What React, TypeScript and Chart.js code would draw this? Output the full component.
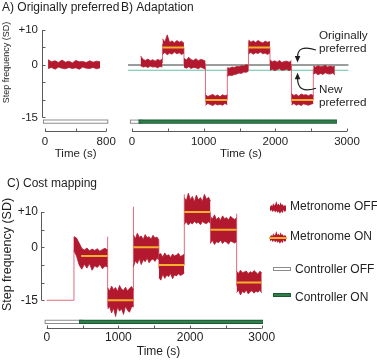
import React, { useEffect, useRef } from 'react';
import { Chart, registerables } from 'chart.js';

Chart.register(...registerables);

const FONT = '"Liberation Sans", Arial, Helvetica, sans-serif';

// colours
const TRACE = '#b3192e';
const TARGET = '#f5b02d';
const STEP = '#e36b7d';
const AXIS = '#5a5a5a';
const INK = '#1f1f1f';
const ORIGINAL = '#3b3b3b';
const NEW_PREF = '#63c2a2';
const CTRL_OFF_FILL = '#ffffff';
const CTRL_OFF_EDGE = '#8c8c8c';
const CTRL_ON_FILL = '#2e7f4c';
const CTRL_ON_EDGE = '#1c5a33';

// ---------- shared step-frequency axis (SD) ----------
const yTicks = [-15, -10, -5, 0, 5, 10];
const yTickLabels = ['-15', '', '', '0', '', '+10'];

// ---------- A) Originally preferred ----------
const aXTicks = [0, 400, 800];
const aXTickLabels = ['0', '', '800'];
const aTrace = [40, 720];
const aUpper = [1.5, 0.9, 1.2, 0.7, 1.4, 0.8, 1.1, 0.6, 1.3, 0.9, 1.0, 0.7, 1.2, 0.8, 1.1, 0.9];
const aLower = [-1.0, -0.7, -1.2, -0.6, -0.9, -1.1, -0.7, -1.0, -0.8, -1.2, -0.6, -0.9, -1.0, -0.7, -1.1, -0.8];
const aCtrlOff = [0, 800];

// ---------- B) Adaptation ----------
const bXTicks = [0, 500, 1000, 1500, 2000, 2500, 3000];
const bXTickLabels = ['0', '', '1000', '', '2000', '', '3000'];
const bSegStart = [120, 425, 725, 1025, 1330, 1625, 1925, 2225, 2530];
const bSegEnd = [425, 725, 1025, 1330, 1625, 1925, 2225, 2530, 2830];
const bTarget: (number | null)[] = [null, 5, null, -10, null, 5, null, -10, null];
const bUpper = [
  [2.6, 1.6, 1.3, 1.7, 1.2, 1.5, 1.1, 1.6, 1.3, 1.8],
  [7.5, 6.6, 8.6, 6.4, 6.9, 6.3, 7.0, 6.5, 6.8, 6.2],
  [1.9, 1.4, 2.2, 1.5, 1.3, 1.8, 1.2, 1.6, 1.4, 1.1],
  [-8.5, -9.0, -8.7, -8.4, -8.9, -8.6, -9.1, -8.5, -8.8, -8.6],
  [-0.8, -0.9, -0.6, -0.7, -0.4, -0.5, -0.2, -0.3, 0.1, -0.1],
  [7.2, 6.5, 6.9, 6.4, 7.0, 6.6, 6.3, 6.8, 6.5, 6.7],
  [1.4, 0.9, 1.2, 0.8, 1.3, 0.7, 1.0, 1.1, 0.8, 1.2],
  [-8.2, -8.7, -8.4, -8.9, -8.3, -8.6, -8.5, -8.8, -8.4, -8.7],
  [-0.3, -0.6, -0.2, -0.5, -0.4, -0.1, -0.6, -0.3, -0.5, -0.4],
];
const bLower = [
  [-0.2, -0.6, -0.4, -0.7, -0.3, -0.6, -0.5, -0.8, -0.4, -0.6],
  [3.0, 3.6, 2.9, 3.4, 3.1, 3.7, 3.2, 3.5, 3.0, 3.4],
  [-0.6, -0.9, -0.5, -1.0, -0.7, -0.8, -1.1, -0.6, -0.9, -1.2],
  [-11.5, -11.0, -11.3, -11.6, -11.1, -11.4, -11.2, -11.5, -11.0, -11.3],
  [-3.2, -2.9, -3.0, -2.7, -2.6, -2.3, -2.4, -2.0, -2.1, -1.8],
  [3.2, 3.6, 3.1, 3.5, 3.3, 3.7, 3.2, 3.4, 3.0, 3.5],
  [-1.5, -1.2, -1.6, -1.3, -1.1, -1.5, -1.4, -1.2, -1.6, -1.3],
  [-11.4, -11.0, -11.5, -11.2, -11.6, -11.1, -11.3, -11.5, -11.2, -11.0],
  [-2.6, -2.3, -2.8, -2.4, -2.7, -2.2, -2.5, -2.6, -2.3, -2.8],
];
const bStepTime = [425, 725, 1025, 1330, 1625, 1925, 2225, 2530];
const bStepLow = [0.5, 0, -10.5, -10, -1.5, 0, -10.5, -10];
const bStepHigh = [6, 5, 0.5, -0.8, 6.8, 5, 0.3, -1];
const bOriginallyPreferred = 0;
const bNewPreferred = -1.5;
const bPreferredSpan = [-56, 3020];
const bCtrlOff = [0, 120];
const bCtrlOn = [120, 2830];

// ---------- C) Cost mapping ----------
const cXTicks = [0, 500, 1000, 1500, 2000, 2500, 3000];
const cXTickLabels = ['0', '', '1000', '', '2000', '', '3000'];
const cPreTimes = [0, 380];
const cPreValues = [-15, -15];
const cSegStart = [380, 850, 1210, 1565, 1920, 2285, 2650];
const cSegEnd = [850, 1210, 1565, 1920, 2285, 2650, 3000];
const cTarget = [-2.5, -15, 0, -5, 10, 5, -10];
const cTargetStart = [480, 850, 1210, 1565, 1920, 2285, 2650];
const cUpper = [
  [3.0, 2.6, 1.2, -0.3, -0.8, -0.2, -1.0, -0.5, -0.9, -0.4, -1.1, -0.6, -0.3, -0.8],
  [-11.5, -12.3, -11.0, -12.0, -11.4, -12.5, -10.8, -11.9, -12.2, -11.3, -12.4, -11.7, -11.1, -12.0],
  [3.5, 2.4, 4.0, 2.8, 3.2, 2.2, 3.6, 2.7, 3.0, 2.3, 3.4, 2.6, 2.9, 2.1],
  [-2.0, -1.8, -2.8, -1.6, -2.4, -2.1, -2.9, -1.9, -2.5, -2.2, -1.7, -2.6, -2.3, -2.0],
  [14.0, 13.2, 15.3, 13.5, 14.4, 12.9, 14.8, 13.4, 14.1, 13.0, 15.0, 13.6, 14.2, 13.1],
  [8.7, 8.0, 9.2, 7.8, 8.5, 7.6, 8.9, 8.1, 8.4, 7.7, 8.8, 8.2, 7.9, 8.3],
  [-6.8, -7.4, -6.5, -7.2, -7.0, -6.7, -7.5, -6.9, -7.3, -6.6, -7.1, -7.6, -6.8, -7.2],
];
const cLower = [
  [-1.0, -2.5, -5.0, -6.2, -4.8, -5.9, -4.6, -6.5, -5.2, -5.7, -4.9, -6.1, -5.3, -5.6],
  [-17.5, -16.8, -18.6, -17.2, -19.6, -16.9, -18.1, -17.4, -19.0, -16.7, -17.8, -18.4, -17.0, -16.6],
  [-5.5, -3.8, -4.6, -3.2, -4.9, -3.5, -4.1, -3.0, -4.4, -3.6, -3.3, -4.0, -3.1, -3.5],
  [-8.5, -9.3, -7.6, -8.8, -7.9, -8.3, -7.4, -8.9, -7.8, -8.1, -7.5, -8.0, -7.7, -7.3],
  [6.5, 7.2, 6.3, 7.0, 6.6, 7.4, 6.8, 7.1, 6.4, 7.3, 6.9, 6.7, 7.2, 6.8],
  [1.2, 1.9, 0.8, 1.6, 1.3, 2.0, 1.1, 1.7, 1.4, 0.9, 1.8, 1.5, 1.2, 1.7],
  [-12.8, -12.2, -13.5, -12.5, -12.9, -12.1, -13.2, -12.6, -12.3, -13.0, -12.4, -12.7, -12.2, -12.9],
];
const cStepTime = [380, 850, 1210, 1565, 1920, 2285, 2650];
const cStepLow = [-15, -17, -17, -6, -5, 1, -11];
const cStepHigh = [3, 3, 11.5, 2, 15, 10, 9.5];
const cCtrlOff = [0, 480];
const cCtrlOn = [480, 3000];

// rows (in SD units) where the controller state bars sit, under the traces
const CTRL_ROW_AB = -16.2;
const CTRL_ROW_C = -21.1;

type P = { x: number; y: number | null };

// samples of one envelope, spread evenly over its segment
const spread = (t0: number, t1: number, values: number[]): P[] =>
  values.map((v, k) => ({ x: t0 + ((t1 - t0) * k) / (values.length - 1), y: v }));

function traceBands(starts: number[], ends: number[], uppers: number[][], lowers: number[][]) {
  const sets: any[] = [];
  starts.forEach((s, i) => {
    sets.push({ data: spread(s, ends[i], uppers[i]), borderColor: TRACE, backgroundColor: TRACE, borderWidth: 0.8, fill: '+1', order: 4 });
    sets.push({ data: spread(s, ends[i], lowers[i]), borderColor: TRACE, borderWidth: 0.8, fill: false, order: 4 });
  });
  return sets;
}

function stepLines(times: number[], lows: number[], highs: number[]) {
  const data: P[] = [];
  times.forEach((t, i) => data.push({ x: t, y: lows[i] }, { x: t, y: highs[i] }, { x: t, y: null }));
  return { data, borderColor: STEP, borderWidth: 1, fill: false, spanGaps: false, order: 5 };
}

function targetLines(starts: number[], ends: number[], targets: (number | null)[]) {
  const sets: any[] = [];
  targets.forEach((v, i) => {
    if (v === null) return;
    sets.push({ data: [{ x: starts[i], y: v }, { x: ends[i], y: v }], borderColor: TARGET, borderWidth: 2, fill: false, order: 1 });
  });
  return sets;
}

function controllerBar(span: number[], row: number, on: boolean, base: number) {
  const data = [{ x: span[0], y: row }, { x: span[1], y: row }];
  return [
    { data, borderColor: on ? CTRL_ON_EDGE : CTRL_OFF_EDGE, borderWidth: 4.2, borderCapStyle: 'square', fill: false, order: base + 0.1 },
    { data, borderColor: on ? CTRL_ON_FILL : CTRL_OFF_FILL, borderWidth: 2.2, borderCapStyle: 'square', fill: false, order: base },
  ];
}

function hLine(span: number[], value: number, color: string) {
  return { data: [{ x: span[0], y: value }, { x: span[1], y: value }], borderColor: color, borderWidth: 1.2, fill: false, order: 6 };
}

interface Decor {
  title: string;
  titlePos: [number, number];
  yTitle?: { pos: [number, number]; size: number };
  xTitle: { t: number; dy: number; size: number };
  xTicks: number[];
  yAxis: boolean;
  notes?: boolean;
}

function decorPlugin(d: Decor) {
  return {
    id: 'decor',
    afterDraw(chart: any) {
      const { ctx, chartArea } = chart;
      const xs = chart.scales.x;
      const ys = chart.scales.y;
      ctx.save();
      ctx.strokeStyle = AXIS;
      ctx.lineWidth = 1;
      // detached time axis with inward ticks
      const yb = Math.round(chartArea.bottom) - 0.5;
      ctx.beginPath();
      ctx.moveTo(xs.getPixelForValue(d.xTicks[0]), yb);
      ctx.lineTo(xs.getPixelForValue(d.xTicks[d.xTicks.length - 1]), yb);
      d.xTicks.forEach((t) => {
        const px = Math.round(xs.getPixelForValue(t)) + 0.5;
        ctx.moveTo(px, yb);
        ctx.lineTo(px, yb - 3);
      });
      ctx.stroke();
      if (d.yAxis) {
        const xl = Math.round(chartArea.left) + 0.5;
        ctx.beginPath();
        ctx.moveTo(xl, ys.getPixelForValue(yTicks[0]));
        ctx.lineTo(xl, ys.getPixelForValue(yTicks[yTicks.length - 1]));
        yTicks.forEach((v) => {
          const py = Math.round(ys.getPixelForValue(v)) + 0.5;
          ctx.moveTo(xl, py);
          ctx.lineTo(xl + 3, py);
        });
        ctx.stroke();
      }
      ctx.fillStyle = INK;
      // panel title
      ctx.font = `12px ${FONT}`;
      ctx.textAlign = 'left';
      ctx.textBaseline = 'alphabetic';
      ctx.fillText(d.title, d.titlePos[0], d.titlePos[1]);
      // time axis title
      ctx.font = `${d.xTitle.size}px ${FONT}`;
      ctx.textAlign = 'center';
      ctx.textBaseline = 'middle';
      ctx.fillText('Time (s)', xs.getPixelForValue(d.xTitle.t), chartArea.bottom + d.xTitle.dy);
      // step-frequency title
      if (d.yTitle) {
        ctx.save();
        ctx.font = `${d.yTitle.size}px ${FONT}`;
        ctx.translate(d.yTitle.pos[0], d.yTitle.pos[1]);
        ctx.rotate(-Math.PI / 2);
        ctx.fillText('Step frequency (SD)', 0, 0);
        ctx.restore();
      }
      if (d.notes) {
        const x0 = xs.getPixelForValue(2310);
        const tx = xs.getPixelForValue(2609);
        const yO = ys.getPixelForValue(bOriginallyPreferred);
        const yN = ys.getPixelForValue(bNewPreferred);
        ctx.font = `11.7px ${FONT}`;
        ctx.textAlign = 'left';
        ctx.fillText('Originally', tx, ys.getPixelForValue(8.3));
        ctx.fillText('preferred', tx, ys.getPixelForValue(4.6));
        ctx.fillText('New', tx, ys.getPixelForValue(-7.1));
        ctx.fillText('preferred', tx, ys.getPixelForValue(-10.9));
        ctx.strokeStyle = INK;
        ctx.lineWidth = 1.2;
        ctx.beginPath();
        ctx.moveTo(tx - 3, yO - 15);
        ctx.quadraticCurveTo(x0, yO - 21, x0, yO - 8);
        ctx.moveTo(tx - 3, yN + 18);
        ctx.quadraticCurveTo(x0, yN + 24, x0, yN + 8);
        ctx.stroke();
        ctx.beginPath();
        ctx.moveTo(x0, yO - 2.5);
        ctx.lineTo(x0 - 2.8, yO - 9);
        ctx.lineTo(x0 + 2.8, yO - 9);
        ctx.closePath();
        ctx.moveTo(x0, yN + 2.5);
        ctx.lineTo(x0 - 2.8, yN + 9);
        ctx.lineTo(x0 + 2.8, yN + 9);
        ctx.closePath();
        ctx.fill();
      }
      ctx.restore();
    },
  };
}

interface Frame {
  xMin: number; xMax: number; yMin: number; yMax: number;
  xTicks: number[]; xLabels: string[];
  showY: boolean; yWidth: number; xHeight: number;
  padding: { left: number; top: number; right: number; bottom: number };
  tickSize: number; yPad: number; xPad: number;
}

function makeConfig(f: Frame, datasets: any[], decor: Decor): any {
  return {
    type: 'line',
    data: { datasets },
    plugins: [decorPlugin(decor)],
    options: {
      responsive: false,
      maintainAspectRatio: false,
      devicePixelRatio: 1,
      animation: false,
      events: [],
      layout: { padding: f.padding },
      elements: { point: { radius: 0 }, line: { tension: 0 } },
      plugins: { legend: { display: false }, tooltip: { enabled: false } },
      scales: {
        x: {
          type: 'linear',
          min: f.xMin,
          max: f.xMax,
          grid: { display: false, drawTicks: false },
          border: { display: false },
          afterBuildTicks: (s: any) => { s.ticks = f.xTicks.map((v) => ({ value: v })); },
          afterFit: (s: any) => { s.height = f.xHeight; },
          ticks: {
            autoSkip: false,
            maxRotation: 0,
            padding: f.xPad,
            color: INK,
            font: { family: FONT, size: f.tickSize },
            callback: (v: any) => f.xLabels[f.xTicks.indexOf(Number(v))] ?? '',
          },
        },
        y: {
          type: 'linear',
          display: f.showY,
          min: f.yMin,
          max: f.yMax,
          grid: { display: false, drawTicks: false },
          border: { display: false },
          afterBuildTicks: (s: any) => { s.ticks = yTicks.map((v) => ({ value: v })); },
          afterFit: (s: any) => { s.width = f.yWidth; },
          ticks: {
            autoSkip: false,
            padding: f.yPad,
            color: INK,
            font: { family: FONT, size: f.tickSize },
            callback: (v: any) => yTickLabels[yTicks.indexOf(Number(v))] ?? '',
          },
        },
      },
    },
  };
}

const aDatasets = [
  ...traceBands([aTrace[0]], [aTrace[1]], [aUpper], [aLower]),
  ...controllerBar(aCtrlOff, CTRL_ROW_AB, false, 2.5),
];

const bDatasets = [
  ...targetLines(bSegStart, bSegEnd, bTarget),
  ...traceBands(bSegStart, bSegEnd, bUpper, bLower),
  stepLines(bStepTime, bStepLow, bStepHigh),
  hLine(bPreferredSpan, bOriginallyPreferred, ORIGINAL),
  hLine(bPreferredSpan, bNewPreferred, NEW_PREF),
  ...controllerBar(bCtrlOff, CTRL_ROW_AB, false, 2.5),
  ...controllerBar(bCtrlOn, CTRL_ROW_AB, true, 2.2),
];

const cDatasets = [
  ...targetLines(cTargetStart, cSegEnd, cTarget),
  ...traceBands(cSegStart, cSegEnd, cUpper, cLower),
  stepLines(cStepTime, cStepLow, cStepHigh),
  { data: cPreTimes.map((t, i) => ({ x: t, y: cPreValues[i] })), borderColor: STEP, borderWidth: 1.2, fill: false, order: 5 },
  ...controllerBar(cCtrlOff, CTRL_ROW_C, false, 2.5),
  ...controllerBar(cCtrlOn, CTRL_ROW_C, true, 2.2),
];

const configA = makeConfig(
  { xMin: -40, xMax: 850, yMin: -19.15, yMax: 10, xTicks: aXTicks, xLabels: aXTickLabels, showY: true, yWidth: 42, xHeight: 33,
    padding: { left: 0, top: 30, right: 12, bottom: 0 }, tickSize: 11.5, yPad: 4, xPad: 3 },
  aDatasets,
  { title: 'A) Originally preferred', titlePos: [2, 10.5], yTitle: { pos: [6.5, 62.5], size: 9 },
    xTitle: { t: 400, dy: 21.5, size: 11.5 }, xTicks: aXTicks, yAxis: true },
);

const configB = makeConfig(
  { xMin: -56, xMax: 3028, yMin: -19.15, yMax: 10, xTicks: bXTicks, xLabels: bXTickLabels, showY: false, yWidth: 0, xHeight: 33,
    padding: { left: 8, top: 30, right: 28, bottom: 0 }, tickSize: 11.5, yPad: 4, xPad: 3 },
  bDatasets,
  { title: 'B) Adaptation', titlePos: [1, 10.5], xTitle: { t: 1520, dy: 21.5, size: 11.5 }, xTicks: bXTicks, yAxis: false, notes: true },
);

const configC = makeConfig(
  { xMin: -80, xMax: 3018, yMin: -23, yMax: 16, xTicks: cXTicks, xLabels: cXTickLabels, showY: true, yWidth: 41, xHeight: 31.5,
    padding: { left: 0, top: 20.8, right: 22, bottom: 0 }, tickSize: 12, yPad: 3, xPad: 2 },
  cDatasets,
  { title: 'C) Cost mapping', titlePos: [7, 17], yTitle: { pos: [7.5, 84.5], size: 12.5 },
    xTitle: { t: 1560, dy: 23.2, size: 12 }, xTicks: cXTicks, yAxis: true },
);

const spiky =
  'polygon(0% 45%, 8% 30%, 14% 40%, 20% 15%, 26% 35%, 33% 25%, 40% 0%, 46% 30%, 53% 20%, 60% 35%, 66% 10%, 73% 30%, 80% 25%, 86% 40%, 93% 30%, 100% 38%, 100% 75%, 92% 85%, 85% 70%, 78% 95%, 70% 78%, 62% 100%, 55% 80%, 47% 90%, 40% 75%, 32% 88%, 25% 72%, 17% 85%, 10% 70%, 0% 78%)';

const legendText: React.CSSProperties = {
  position: 'absolute', fontFamily: FONT, fontSize: 12, lineHeight: '14px', color: INK, whiteSpace: 'nowrap',
};

export default function App() {
  const aRef = useRef<HTMLCanvasElement>(null);
  const bRef = useRef<HTMLCanvasElement>(null);
  const cRef = useRef<HTMLCanvasElement>(null);

  useEffect(() => {
    const charts = [
      new Chart(aRef.current as HTMLCanvasElement, configA),
      new Chart(bRef.current as HTMLCanvasElement, configB),
      new Chart(cRef.current as HTMLCanvasElement, configC),
    ];
    return () => charts.forEach((c) => c.destroy());
  }, []);

  return (
    <div style={{ position: 'fixed', left: 0, top: 0, width: 377, height: 360, background: '#fff', overflow: 'hidden' }}>
      <canvas ref={aRef} width={122} height={165} style={{ position: 'absolute', left: 0, top: 0, width: 122, height: 165 }} />
      <canvas ref={bRef} width={257} height={165} style={{ position: 'absolute', left: 120, top: 0, width: 257, height: 165 }} />
      <canvas ref={cRef} width={285} height={190} style={{ position: 'absolute', left: 0, top: 170, width: 285, height: 190 }} />

      {/* legend */}
      <div style={{ position: 'absolute', left: 270, top: 201, width: 16, height: 13, background: TRACE, clipPath: spiky }} />
      <div style={{ ...legendText, left: 290, top: 199 }}>Metronome OFF</div>
      <div style={{ position: 'absolute', left: 270, top: 231, width: 16, height: 13, background: TRACE, clipPath: spiky }} />
      <div style={{ position: 'absolute', left: 269, top: 237, width: 18, height: 2, background: TARGET }} />
      <div style={{ ...legendText, left: 290, top: 229 }}>Metronome ON</div>
      <div style={{ position: 'absolute', left: 273, top: 267, width: 16, height: 2, background: CTRL_OFF_FILL, border: `1px solid ${CTRL_OFF_EDGE}` }} />
      <div style={{ ...legendText, left: 295, top: 262 }}>Controller OFF</div>
      <div style={{ position: 'absolute', left: 273, top: 293, width: 16, height: 2, background: CTRL_ON_FILL, border: `1px solid ${CTRL_ON_EDGE}` }} />
      <div style={{ ...legendText, left: 295, top: 290 }}>Controller ON</div>
    </div>
  );
}
